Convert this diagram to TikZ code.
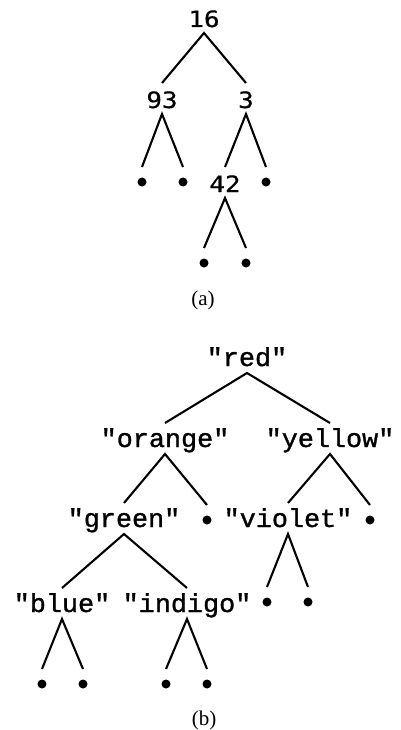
\documentclass[tikz,border=0pt]{standalone}
\usepackage{fontspec}
\setmainfont{Liberation Serif}
\newfontfamily\numfont[FakeStretch=1.15,FakeBold=0.6]{DejaVu Sans Mono}
\newfontfamily\strfont[FakeStretch=1.03,FakeBold=1.2]{Liberation Mono}
\begin{document}
\begin{tikzpicture}[x=1pt,y=-1pt,
  numnode/.style={font=\numfont\fontsize{22.5}{26}\selectfont, inner sep=0pt, outer sep=0pt,
     text height=25pt, text depth=6pt, anchor=base},
  strnode/.style={font=\strfont\fontsize{26}{30}\selectfont, inner sep=0pt, outer sep=0pt,
     text height=24pt, text depth=7pt, anchor=base},
  leaf/.style={circle, fill=black, minimum size=9pt, inner sep=0pt, outer sep=10.5pt},
  treeline/.style={draw=black, line width=2.1pt},
  captext/.style={font=\fontsize{21}{24}\selectfont, inner sep=0pt}]
\useasboundingbox (0,0) rectangle (400,730);
% (a)
\node[numnode] (n16) at (204,27) {16};
\node[numnode] (n93) at (162,108) {93};
\node[numnode] (n3) at (246,108) {3};
\node[leaf] (a1) at (142,182) {};
\node[leaf] (a2) at (183,182) {};
\node[numnode] (n42) at (225,192) {42};
\node[leaf] (a3) at (266,182) {};
\node[leaf] (a4) at (204,263) {};
\node[leaf] (a5) at (246,263) {};
\node[captext] (capa) at (203,300) {(a)};
\draw[treeline] (n93.north) -- (n16.south) -- (n3.north);
\draw[treeline] (a1.north) -- (n93.south) -- (a2.north);
\draw[treeline] (n42.north) -- (n3.south) -- (a3.north);
\draw[treeline] (a4.north) -- (n42.south) -- (a5.north);
% (b)
\node[strnode] (red) at (247,366) {"red"};
\node[strnode] (orange) at (165,447) {"orange"};
\node[strnode] (yellow) at (330,447) {"yellow"};
\node[strnode] (green) at (124,527) {"green"};
\node[leaf] (b1) at (207,520) {};
\node[strnode] (violet) at (288,527) {"violet"};
\node[leaf] (b2) at (370,520) {};
\node[strnode] (blue) at (62,612) {"blue"};
\node[strnode] (indigo) at (187,612) {"indigo"};
\node[leaf] (b3) at (267,602) {};
\node[leaf] (b4) at (308,602) {};
\node[leaf] (b5) at (42,684) {};
\node[leaf] (b6) at (83,684) {};
\node[leaf] (b7) at (166,684) {};
\node[leaf] (b8) at (207,684) {};
\node[captext] (capb) at (204,720) {(b)};
\draw[treeline] (orange.north) -- (red.south) -- (yellow.north);
\draw[treeline] (green.north) -- (orange.south) -- (b1.north);
\draw[treeline] (violet.north) -- (yellow.south) -- (b2.north);
\draw[treeline] (blue.north) -- (green.south) -- (indigo.north);
\draw[treeline] (b3.north) -- (violet.south) -- (b4.north);
\draw[treeline] (b5.north) -- (blue.south) -- (b6.north);
\draw[treeline] (b7.north) -- (indigo.south) -- (b8.north);
\end{tikzpicture}
\end{document}
